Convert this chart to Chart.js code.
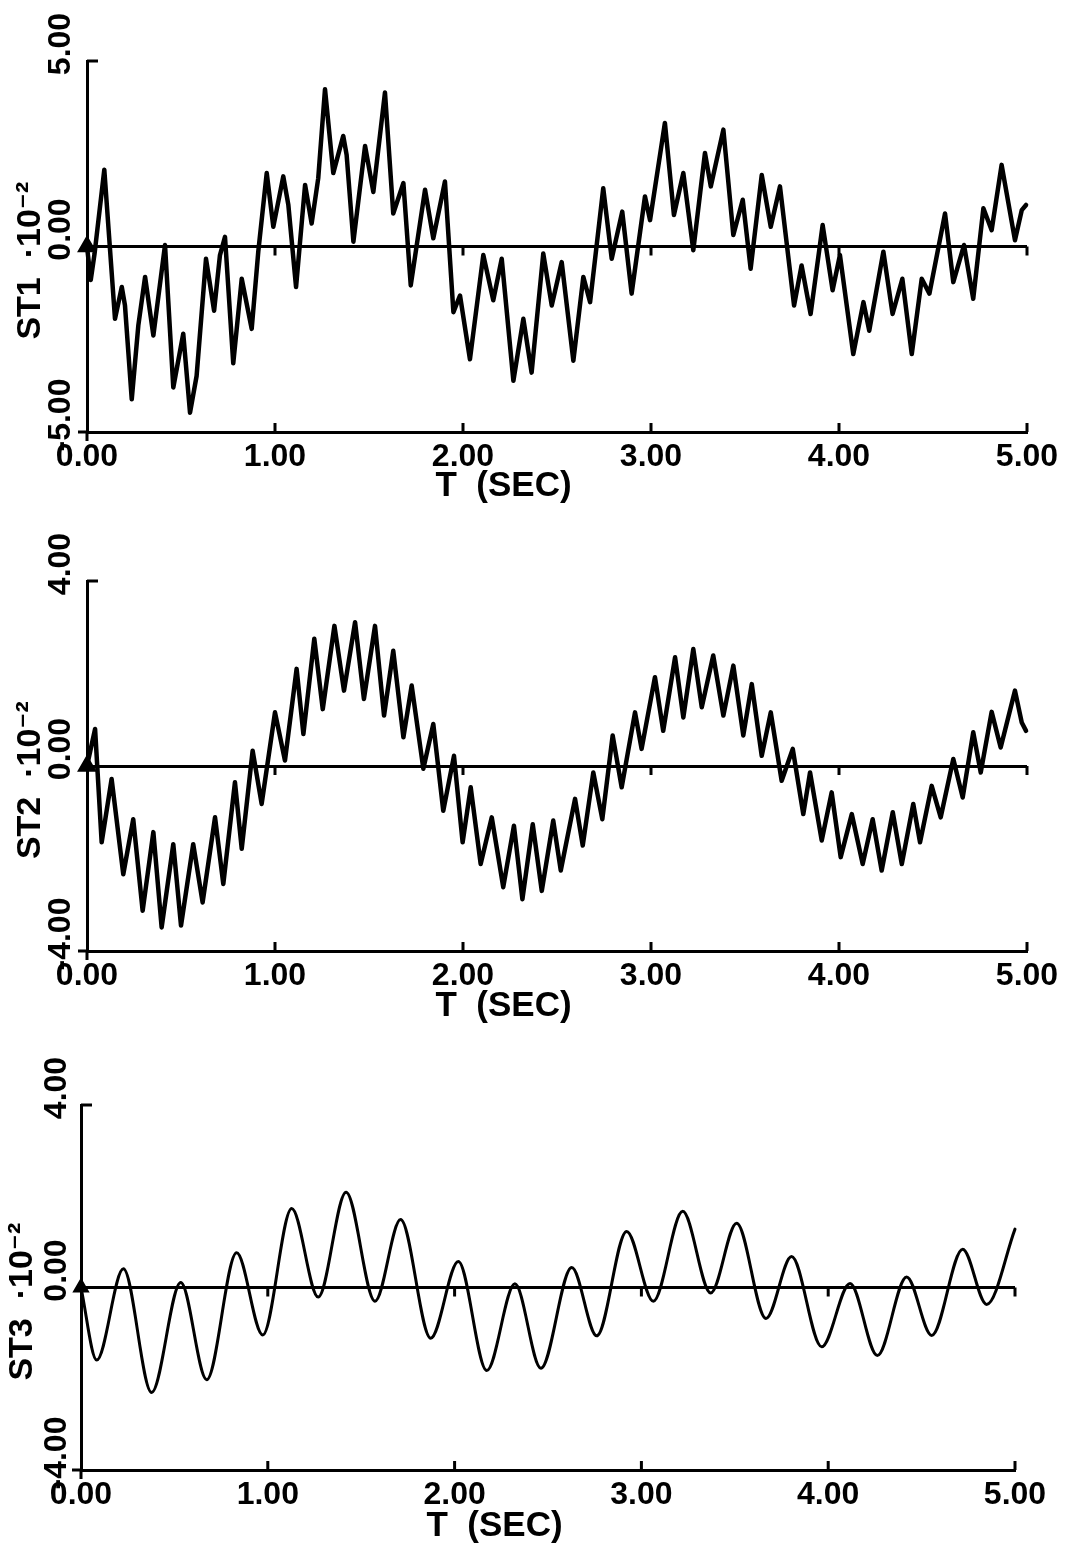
<!DOCTYPE html>
<html><head><meta charset="utf-8">
<script src="https://cdn.jsdelivr.net/npm/chart.js@4.4.1/dist/chart.umd.min.js"></script>
<style>
html,body{margin:0;padding:0;background:#fff;}
#wrap{position:relative;width:1089px;height:1547px;background:#fff;overflow:hidden;}
canvas{position:absolute;left:0;}
</style></head><body>
<div id="wrap">
<canvas id="c1" width="1089" height="520" style="top:0px"></canvas>
<canvas id="c2" width="1089" height="520" style="top:520px"></canvas>
<canvas id="c3" width="1089" height="507" style="top:1040px"></canvas>
</div>
<script>
// ---------- data ----------
const xTickLabels = ['0.00','1.00','2.00','3.00','4.00','5.00'];
const xTitle = 'T  (SEC)';

const st1Title = 'ST1  ·10⁻²';
const st1YTicks = ['-5.00','0.00','5.00'];
const st1Time = [0.000,0.020,0.040,0.092,0.149,0.185,0.202,0.238,0.273,0.309,0.353,0.415,0.459,0.512,0.548,0.583,0.633,0.676,0.707,0.734,0.778,0.823,0.876,0.911,0.956,0.991,1.044,1.071,1.112,1.160,1.195,1.230,1.266,1.310,1.363,1.381,1.417,1.479,1.523,1.585,1.629,1.683,1.722,1.798,1.842,1.904,1.949,1.984,2.037,2.108,2.161,2.206,2.268,2.321,2.365,2.427,2.472,2.525,2.587,2.640,2.676,2.746,2.791,2.847,2.897,2.968,2.995,3.074,3.122,3.172,3.225,3.287,3.318,3.385,3.438,3.488,3.530,3.589,3.637,3.686,3.761,3.801,3.849,3.913,3.966,4.005,4.076,4.130,4.161,4.236,4.285,4.337,4.387,4.440,4.481,4.564,4.608,4.665,4.714,4.768,4.812,4.865,4.936,4.972,4.995];
const st1Value = [0.00,-0.90,-0.20,2.07,-1.95,-1.09,-1.59,-4.12,-2.13,-0.82,-2.40,0.04,-3.80,-2.35,-4.48,-3.49,-0.33,-1.73,-0.24,0.26,-3.15,-0.87,-2.22,-0.14,1.98,0.53,1.89,1.12,-1.09,1.66,0.62,1.84,4.24,1.98,2.98,2.47,0.13,2.71,1.47,4.15,0.89,1.71,-1.05,1.53,0.22,1.75,-1.77,-1.32,-3.04,-0.23,-1.45,-0.33,-3.62,-1.95,-3.40,-0.19,-1.59,-0.42,-3.08,-0.82,-1.50,1.57,-0.33,0.94,-1.27,1.35,0.71,3.33,0.85,1.98,-0.10,2.52,1.62,3.15,0.31,1.26,-0.60,1.93,0.53,1.62,-1.59,-0.51,-1.82,0.58,-1.18,-0.23,-2.90,-1.50,-2.27,-0.14,-1.82,-0.87,-2.90,-0.87,-1.27,0.89,-0.96,0.04,-1.41,1.03,0.44,2.20,0.17,0.98,1.12];

const st2Title = 'ST2  ·10⁻²';
const st2YTicks = ['-4.00','0.00','4.00'];
const st2Time = [0.000,0.043,0.078,0.131,0.193,0.246,0.296,0.353,0.397,0.459,0.500,0.565,0.615,0.681,0.725,0.787,0.823,0.881,0.929,1.000,1.053,1.115,1.151,1.209,1.254,1.316,1.367,1.426,1.473,1.532,1.580,1.629,1.683,1.727,1.789,1.842,1.895,1.952,1.998,2.041,2.094,2.153,2.214,2.271,2.316,2.371,2.419,2.480,2.520,2.596,2.637,2.693,2.741,2.796,2.844,2.915,2.950,3.021,3.065,3.128,3.172,3.225,3.270,3.331,3.385,3.438,3.491,3.536,3.589,3.637,3.695,3.754,3.810,3.846,3.908,3.961,4.009,4.068,4.126,4.179,4.227,4.286,4.334,4.395,4.431,4.493,4.541,4.608,4.658,4.714,4.754,4.812,4.860,4.936,4.972,4.995];
const st2Value = [0.00,0.80,-1.65,-0.28,-2.34,-1.15,-3.13,-1.43,-3.49,-1.69,-3.45,-1.69,-2.95,-1.11,-2.55,-0.35,-1.79,0.33,-0.82,1.16,0.12,2.10,0.69,2.75,1.23,3.03,1.63,3.11,1.45,3.03,1.09,2.49,0.62,1.74,-0.06,0.91,-0.97,0.22,-1.65,-0.46,-2.12,-1.11,-2.62,-1.29,-2.88,-1.26,-2.70,-1.18,-2.26,-0.71,-1.72,-0.14,-1.15,0.66,-0.46,1.16,0.37,1.92,0.76,2.35,1.05,2.53,1.27,2.39,1.09,2.17,0.66,1.77,0.22,1.16,-0.32,0.37,-1.04,-0.14,-1.61,-0.57,-1.97,-1.04,-2.12,-1.15,-2.26,-1.00,-2.12,-0.82,-1.65,-0.43,-1.11,0.15,-0.68,0.73,-0.14,1.17,0.40,1.63,0.94,0.76];

const st3Title = 'ST3  ·10⁻²';
const st3YTicks = ['-4.00','0.00','4.00'];
const st3Time = [0.000,0.084,0.227,0.378,0.534,0.673,0.833,0.973,1.128,1.270,1.419,1.574,1.711,1.872,2.020,2.172,2.323,2.462,2.627,2.761,2.921,3.064,3.221,3.371,3.510,3.667,3.804,3.965,4.117,4.263,4.420,4.554,4.720,4.848,5.000];
const st3Value = [0.00,-1.59,0.41,-2.30,0.11,-2.02,0.76,-1.04,1.73,-0.21,2.09,-0.30,1.49,-1.11,0.57,-1.82,0.08,-1.77,0.44,-1.06,1.23,-0.30,1.67,-0.12,1.41,-0.68,0.68,-1.30,0.09,-1.49,0.23,-1.05,0.84,-0.37,1.28];

// ---------- rendering ----------
const FONT = "'Liberation Sans Narrow','Liberation Sans','DejaVu Sans Condensed',sans-serif";
// trailing blanks only shift the centred titles to where the reference places them
const padText = (s, n) => s + ' '.repeat(n);

const frameTicks = {
  id: 'frameTicks',
  afterDraw(chart) {
    const {ctx} = chart;
    const x = chart.scales.x, y = chart.scales.y;
    const y0 = y.getPixelForValue(0);
    const yb = y.getPixelForValue(y.min);
    const yt = y.getPixelForValue(y.max);
    const xl = x.getPixelForValue(x.min);
    ctx.save();
    ctx.strokeStyle = '#000';
    ctx.lineWidth = 3;
    ctx.beginPath();
    x.ticks.forEach(t => {
      if (t.value <= x.min) return;
      const px = x.getPixelForValue(t.value);
      ctx.moveTo(px, yb); ctx.lineTo(px, yb - 9);
      ctx.moveTo(px, y0); ctx.lineTo(px, y0 + 9);
    });
    ctx.moveTo(xl, yt); ctx.lineTo(xl + 11, yt);
    ctx.moveTo(xl - 9, yb); ctx.lineTo(xl, yb);
    ctx.moveTo(xl, yb); ctx.lineTo(xl, yb + 9);
    ctx.stroke();
    ctx.restore();
  }
};

function makePanel(id, times, values, cfg) {
  const pts = times.map((t, i) => ({x: t, y: values[i]}));
  return new Chart(document.getElementById(id), {
    type: 'line',
    data: { datasets: [{
      data: pts,
      borderColor: '#000',
      borderWidth: cfg.lineWidth,
      borderJoinStyle: 'round',
      borderCapStyle: 'round',
      tension: cfg.smooth ? 0.4 : 0,
      cubicInterpolationMode: cfg.smooth ? 'monotone' : 'default',
      pointRadius: c => c.dataIndex === 0 ? 7 : 0,
      pointStyle: 'triangle',
      pointBackgroundColor: '#000',
      pointBorderColor: '#000',
      fill: false,
      clip: false
    }]},
    options: {
      responsive: false,
      animation: false,
      devicePixelRatio: 1,
      layout: { padding: { top: cfg.padTop, right: cfg.padRight, left: 0, bottom: 0 } },
      plugins: { legend: { display: false }, tooltip: { enabled: false } },
      scales: {
        x: {
          type: 'linear', min: 0, max: 5,
          afterFit: s => { s.height = cfg.xHeight; },
          ticks: { stepSize: 1, autoSkip: false, maxRotation: 0, padding: 6, color: '#000',
                   font: { family: FONT, size: 32, weight: 'bold' },
                   callback: (v, i) => xTickLabels[i] },
          grid: { display: false, drawTicks: false },
          border: { display: true, color: '#000', width: 3 },
          title: { display: true, text: padText(xTitle, 11), color: '#000',
                   font: { family: FONT, size: 35, weight: 'bold' },
                   padding: { top: 0, bottom: cfg.titleBottom } }
        },
        y: {
          type: 'linear', min: -cfg.yMax, max: cfg.yMax,
          afterFit: s => { s.width = cfg.yWidth; },
          ticks: { stepSize: cfg.yMax, minRotation: 90, maxRotation: 90, crossAlign: 'center',
                   padding: cfg.yLabelPad, labelOffset: -17, color: '#000',
                   font: { family: FONT, size: 32, weight: 'bold' },
                   callback: (v, i) => cfg.yTicks[i] },
          grid: { drawTicks: false, lineWidth: 3,
                  color: c => (c.tick && c.tick.value === 0) ? '#000' : 'rgba(0,0,0,0)' },
          border: { display: true, color: '#000', width: 3 },
          title: { display: true, text: padText(cfg.yTitle, 3), color: '#000',
                   font: { family: FONT, size: 34, weight: 'bold' },
                   padding: { top: cfg.yTitlePad, bottom: 0 } }
        }
      }
    },
    plugins: [frameTicks]
  });
}

makePanel('c1', st1Time, st1Value, { yMax: 5, yTicks: st1YTicks, yTitle: st1Title, padTop: 61, padRight: 62,
  xHeight: 88, yWidth: 87, titleBottom: 13, yTitlePad: 10, yLabelPad: -11, lineWidth: 4.5, smooth: false });
makePanel('c2', st2Time, st2Value, { yMax: 4, yTicks: st2YTicks, yTitle: st2Title, padTop: 61, padRight: 62,
  xHeight: 89, yWidth: 87, titleBottom: 13, yTitlePad: 10, yLabelPad: -11, lineWidth: 4.5, smooth: false });
makePanel('c3', st3Time, st3Value, { yMax: 4, yTicks: st3YTicks, yTitle: st3Title, padTop: 65, padRight: 74,
  xHeight: 77, yWidth: 81, titleBottom: 0, yTitlePad: 2, yLabelPad: -13, lineWidth: 3, smooth: true });
</script>
</body></html>
